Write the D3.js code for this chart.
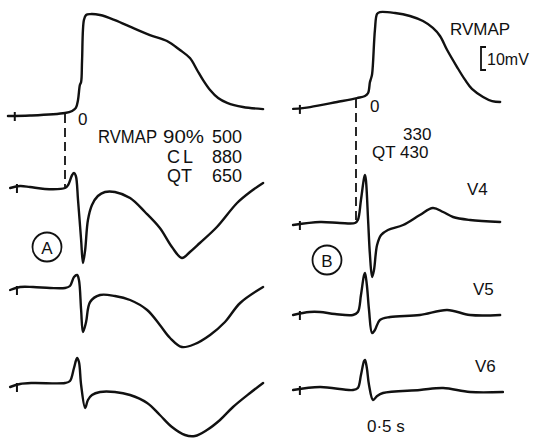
<!DOCTYPE html>
<html>
<head>
<meta charset="utf-8">
<script src="https://cdn.jsdelivr.net/npm/d3@7"></script>
<style>
  body { margin: 0; background: #fff; }
  text { font-family: "Liberation Sans", Arial, sans-serif; fill: #111; }
</style>
</head>
<body>
<svg width="534" height="439"></svg>
<script>
// time in ms from QRS onset, amplitude in mV (RVMAP) or mV (ECG leads)
var rvmapA = [[-184,0],[-113,0.2],[0,1.3],[23,2.2],[35,3.5],[42,7],[48,13.5],[52,14.8],[55,24],[61,41.7],[68,43.9],[81,44.3],[113,43.9],[161,41.7],[219,38.3],[274,35.2],[329,32.6],[371,28.7],[403,25.2],[426,20],[445,15.7],[468,11.3],[494,7.8],[523,5.7],[574,3.9],[639,3]];
var v4A = [[-177,-0.02],[-145,0.02],[-113,0],[-65,-0.04],[0,-0.02],[10,0.04],[23,0.24],[29,0.28],[35,0.22],[42,-0.26],[52,-1.06],[58,-1.52],[65,-1.26],[74,-0.66],[87,-0.36],[106,-0.18],[129,-0.1],[161,-0.1],[210,-0.22],[258,-0.5],[306,-0.82],[345,-1.2],[377,-1.42],[403,-1.3],[435,-1.12],[490,-0.8],[555,-0.32],[597,-0.1],[639,0.08]];
var v5A = [[-177,-0.02],[-145,0.04],[-103,0.04],[-48,0.02],[0,0.02],[16,0.06],[29,0.24],[39,0.28],[45,0.18],[52,-0.42],[58,-0.86],[68,-0.66],[81,-0.26],[113,-0.12],[161,-0.14],[210,-0.22],[265,-0.42],[306,-0.72],[339,-0.98],[377,-1.16],[419,-1.1],[468,-0.92],[516,-0.66],[565,-0.28],[639,0.04]];
var v6A = [[-177,-0.04],[-145,0.02],[-103,0.04],[0,0.04],[16,0.08],[29,0.34],[39,0.54],[45,0.46],[52,0],[65,-0.46],[74,-0.3],[87,-0.2],[113,-0.14],[161,-0.14],[210,-0.2],[265,-0.36],[306,-0.6],[345,-0.84],[387,-1.0],[419,-1.02],[458,-0.9],[500,-0.7],[542,-0.44],[597,-0.16],[639,0.04]];

var rvmapB = [[-203,-0.4],[-148,0.4],[-61,2.6],[3,4.3],[29,5.2],[39,6.5],[45,11.3],[48,12.6],[52,14.8],[61,33.9],[68,40.9],[77,41.7],[126,41.3],[174,40],[216,37.8],[248,34.8],[271,31.3],[294,25.2],[326,17.8],[352,12.2],[374,8.3],[410,4.8],[439,3],[465,2.6]];
var v4B = [[-203,-0.02],[-116,0.04],[-52,0.02],[-3,0.02],[6,0.08],[16,0.48],[26,0.92],[29,0.98],[32,0.88],[39,0.08],[45,-0.62],[52,-1.06],[58,-0.92],[68,-0.42],[81,-0.22],[103,-0.12],[152,-0.02],[206,0.18],[248,0.32],[281,0.24],[313,0.14],[368,0.08],[465,0.04]];
var v5B = [[-203,0],[-150,0.06],[-116,0.06],[-68,0.02],[-10,0],[6,0.06],[16,0.4],[26,0.8],[29,0.84],[35,0.6],[42,0.1],[52,-0.36],[61,-0.3],[77,-0.1],[110,-0.04],[206,0],[294,0.1],[368,0],[465,0]];
var v6B = [[-203,0],[-116,0.06],[-10,0],[6,0.04],[16,0.3],[26,0.58],[29,0.6],[35,0.44],[42,0.1],[55,-0.2],[68,-0.12],[87,-0.06],[206,0],[281,0.04],[368,-0.04],[474,-0.04]];

var statsA = [["RVMAP", "90%", "500"], ["CL", "", "880"], ["QT", "", "650"]];
var statsB = ["330", "QT 430"];
var leadLabels = ["V4", "V5", "V6"];

var svg = d3.select('svg');
var ink = '#111';

var panels = [
    {origin: 65, traces: [
        {data: rvmapA, base: 116, gain: 2.3},
        {data: v4A, base: 187, gain: 50},
        {data: v5A, base: 289, gain: 50},
        {data: v6A, base: 385, gain: 50}]},
    {origin: 356, traces: [
        {data: rvmapB, base: 108, gain: 2.3},
        {data: v4B, base: 224, gain: 50},
        {data: v5B, base: 315, gain: 50},
        {data: v6B, base: 390, gain: 50}]}
];

panels.forEach((p) => {
    p.x = d3.scaleLinear().domain([0, 1000]).range([p.origin, p.origin + 310]);
    p.traces.forEach((tr) => {
        tr.y = d3.scaleLinear().domain([0, 1]).range([tr.base, tr.base - tr.gain]);
        let line = d3.line()
            .x((d) => p.x(d[0]))
            .y((d) => tr.y(d[1]))
            .curve(d3.curveCatmullRom.alpha(0.5));
        svg.append('path')
            .attr('d', line(tr.data))
            .attr('fill', 'none')
            .attr('stroke', ink)
            .attr('stroke-width', 2.4)
            .attr('stroke-linejoin', 'round')
            .attr('stroke-linecap', 'round');
        // little time mark near the start
        let t0 = tr.data[0][0] + 22;
        let yy = tr.y(tr.data[0][1]);
        svg.append('line')
            .attr('x1', p.x(t0)).attr('x2', p.x(t0))
            .attr('y1', yy - 4).attr('y2', yy + 5)
            .attr('stroke', ink).attr('stroke-width', 2);
    });
    // dashed line from RVMAP baseline down to V4 at QRS onset
    svg.append('line')
        .attr('x1', p.x(0)).attr('x2', p.x(0))
        .attr('y1', p.traces[0].y(p.traces[0].data.find((d) => d[0] >= 0)[1]) + 1)
        .attr('y2', p.traces[1].base)
        .attr('stroke', ink)
        .attr('stroke-width', 1.8)
        .attr('stroke-dasharray', '9 5');
});

function label(x, y, s, size, anchor) {
    return svg.append('text')
        .attr('x', x).attr('y', y)
        .attr('font-size', size)
        .attr('text-anchor', anchor || 'start')
        .text(s);
}

// panel A texts
label(78, 125, '0', 17);
var colX = [98, 163, 212];
statsA.forEach((row, i) => {
    var y = 143 + i * 19.5;
    if (i === 0) {
        label(colX[0], y, row[0], 18).attr('textLength', 59).attr('lengthAdjust', 'spacingAndGlyphs');
    } else {
        label(167, y, row[0], 18).attr('letter-spacing', i === 1 ? 3 : 0);
    }
    if (row[1]) label(colX[1], y, row[1], 18).attr('textLength', 41).attr('lengthAdjust', 'spacingAndGlyphs');
    label(colX[2], y, row[2], 18);
});
svg.append('circle').attr('cx', 47).attr('cy', 247).attr('r', 14.5)
    .attr('fill', 'none').attr('stroke', ink).attr('stroke-width', 1.8);
label(47, 253.5, 'A', 17, 'middle');

// panel B texts
label(450, 35, 'RVMAP', 17);
svg.append('path')
    .attr('d', 'M486,47 H481 V70 H486')
    .attr('fill', 'none').attr('stroke', ink).attr('stroke-width', 1.8);
label(487, 65, '10mV', 16);
label(370, 112, '0', 17);
label(403, 140, statsB[0], 17);
label(372, 158, statsB[1], 17);
label(467, 195, leadLabels[0], 17);
label(473, 295, leadLabels[1], 17);
label(475, 372, leadLabels[2], 17);
svg.append('circle').attr('cx', 327).attr('cy', 260).attr('r', 14.5)
    .attr('fill', 'none').attr('stroke', ink).attr('stroke-width', 1.8);
label(327, 266.5, 'B', 17, 'middle');
label(367, 432, '0·5 s', 17);
</script>
</body>
</html>
